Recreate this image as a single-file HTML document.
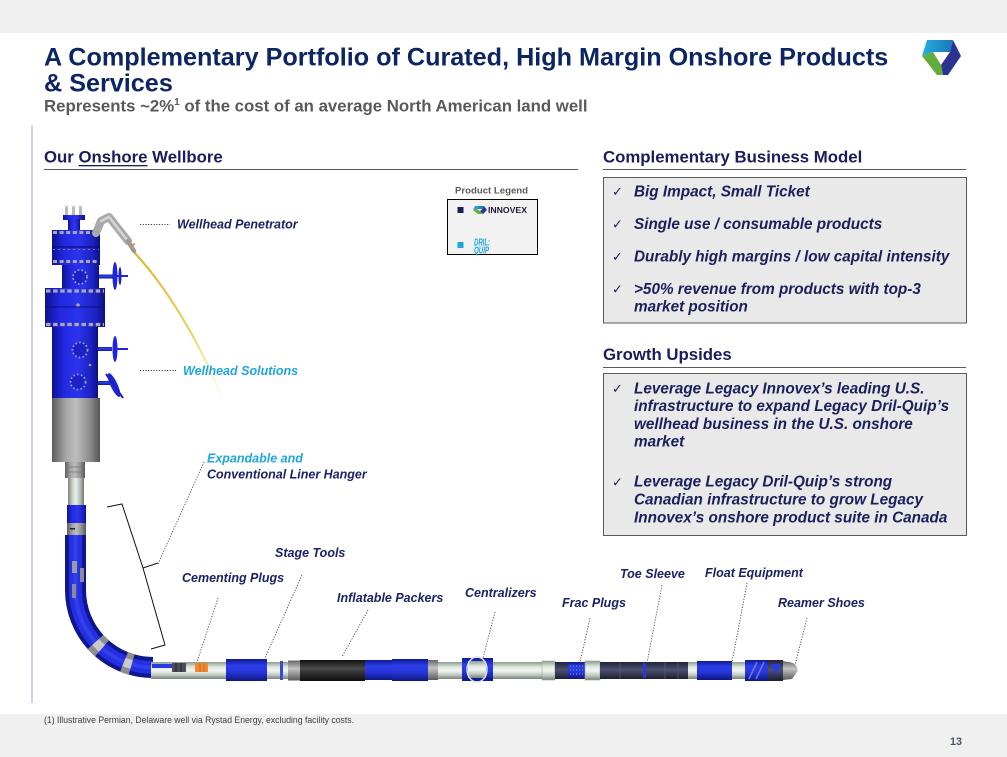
<!DOCTYPE html>
<html><head><meta charset="utf-8">
<style>
html,body{margin:0;padding:0;background:#fff;}
body{width:1007px;height:757px;overflow:hidden;position:relative;}
svg{position:absolute;left:0;top:0;}
text{font-family:"Liberation Sans",Arial,sans-serif;}
.lbl{font-size:12.5px;font-weight:bold;font-style:italic;fill:#1b2266;}
.cy{fill:#1ea5e0;}
.bx{font-size:15.3px;font-weight:bold;font-style:italic;fill:#1b1f5c;}
.ck{font-family:"DejaVu Sans",sans-serif;font-size:13px;fill:#1b1f5c;}
.hd{font-size:16.8px;font-weight:bold;fill:#1b1b5e;}
.ld{fill:none;stroke:#444;stroke-width:0.9;stroke-dasharray:1.2 1.5;}
</style></head><body>
<svg width="1007" height="757" viewBox="0 0 1007 757" xmlns="http://www.w3.org/2000/svg">
<defs>
  <linearGradient id="bh" x1="0" x2="1" y1="0" y2="0">
    <stop offset="0" stop-color="#0d1290"/><stop offset=".25" stop-color="#2228e0"/>
    <stop offset=".55" stop-color="#2c34ee"/><stop offset=".85" stop-color="#1c22c0"/>
    <stop offset="1" stop-color="#0b1080"/>
  </linearGradient>
  <linearGradient id="bv" x1="0" x2="0" y1="0" y2="1">
    <stop offset="0" stop-color="#0f1a92"/><stop offset=".3" stop-color="#2c3ee8"/>
    <stop offset=".6" stop-color="#2636d8"/><stop offset="1" stop-color="#0c1680"/>
  </linearGradient>
  <linearGradient id="gh" x1="0" x2="1" y1="0" y2="0">
    <stop offset="0" stop-color="#5d5d5d"/><stop offset=".3" stop-color="#a8a8a8"/>
    <stop offset=".5" stop-color="#bdbdbd"/><stop offset=".8" stop-color="#8a8a8a"/>
    <stop offset="1" stop-color="#555"/>
  </linearGradient>
  <linearGradient id="gv" x1="0" x2="0" y1="0" y2="1">
    <stop offset="0" stop-color="#666"/><stop offset=".4" stop-color="#c4c4c4"/>
    <stop offset="1" stop-color="#5a5a5a"/>
  </linearGradient>
  <linearGradient id="ph" x1="0" x2="1" y1="0" y2="0">
    <stop offset="0" stop-color="#7d877d"/><stop offset=".3" stop-color="#cdd5cd"/>
    <stop offset=".5" stop-color="#e8ede8"/><stop offset=".8" stop-color="#aab4aa"/>
    <stop offset="1" stop-color="#6f786f"/>
  </linearGradient>
  <linearGradient id="pv" x1="0" x2="0" y1="0" y2="1">
    <stop offset="0" stop-color="#8f9a8f"/><stop offset=".3" stop-color="#dfe8df"/>
    <stop offset=".5" stop-color="#f2f6f2"/><stop offset=".75" stop-color="#c2ccc2"/>
    <stop offset="1" stop-color="#778277"/>
  </linearGradient>
  <linearGradient id="kv" x1="0" x2="0" y1="0" y2="1">
    <stop offset="0" stop-color="#111"/><stop offset=".4" stop-color="#4a4a4a"/>
    <stop offset=".6" stop-color="#333"/><stop offset="1" stop-color="#0c0c0c"/>
  </linearGradient>
  <linearGradient id="dv" x1="0" x2="0" y1="0" y2="1">
    <stop offset="0" stop-color="#20223a"/><stop offset=".45" stop-color="#4e5270"/>
    <stop offset="1" stop-color="#1c1e32"/>
  </linearGradient>
  <linearGradient id="cable" gradientUnits="userSpaceOnUse" x1="132" y1="250" x2="228" y2="410">
    <stop offset="0" stop-color="#d9b52e"/><stop offset=".55" stop-color="#e9cf5c" stop-opacity=".9"/>
    <stop offset="1" stop-color="#f3e7b0" stop-opacity="0"/>
  </linearGradient>
  <linearGradient id="lc" x1="0" x2="1" y1="0" y2="0">
    <stop offset="0" stop-color="#27b0e0"/><stop offset="1" stop-color="#1a74b8"/>
  </linearGradient>
</defs>

<!-- bands -->
<rect x="0" y="0" width="1007" height="33" fill="#f0f0f0"/>
<rect x="0" y="714" width="1007" height="43" fill="#f0f0f0"/>
<rect x="31" y="125" width="2" height="578" fill="#c9d4df"/>

<!-- title -->
<text x="44" y="65.7" font-size="25.2" font-weight="bold" fill="#0d2663">A Complementary Portfolio of Curated, High Margin Onshore Products</text>
<text x="44" y="91.7" font-size="25.2" font-weight="bold" fill="#0d2663">&amp; Services</text>
<text x="44" y="111.7" font-size="16.8" font-weight="bold" fill="#595959">Represents ~2%<tspan font-size="10" dy="-6.5">1</tspan><tspan dy="6.5"> of the cost of an average North American land well</tspan></text>

<!-- logo -->
<polygon points="927,40 953,40 950,52 933,52 922,56" fill="url(#lc)"/>
<polygon points="953,40 961,56 948,75 943,75 941,65 950,52" fill="#2b3490"/>
<polygon points="922,56 933,52 941,65 943,75 937,75" fill="#62ac3c"/>

<!-- headings -->
<text x="44" y="162.7" class="hd">Our Onshore Wellbore</text>
<rect x="78.5" y="165" width="69" height="1.3" fill="#1b1b5e"/>
<rect x="44" y="169" width="534" height="1" fill="#595959"/>
<text x="603" y="162.7" class="hd">Complementary Business Model</text>
<rect x="603" y="169" width="363" height="1" fill="#595959"/>
<text x="603" y="360" class="hd">Growth Upsides</text>
<rect x="603" y="367" width="363" height="1" fill="#595959"/>

<!-- box 1 -->
<rect x="603.5" y="177.5" width="363" height="145.5" fill="#e9e9e9" stroke="#595959" stroke-width="1"/>
<text x="612" y="196" class="ck">✓</text><text x="634" y="196.5" class="bx">Big Impact, Small Ticket</text>
<text x="612" y="228.5" class="ck">✓</text><text x="634" y="229" class="bx">Single use / consumable products</text>
<text x="612" y="261" class="ck">✓</text><text x="634" y="261.5" class="bx">Durably high margins / low capital intensity</text>
<text x="612" y="293.5" class="ck">✓</text><text x="634" y="294" class="bx">&gt;50% revenue from products with top-3</text>
<text x="634" y="311.7" class="bx">market position</text>

<!-- box 2 -->
<rect x="603.5" y="373.5" width="363" height="162" fill="#e9e9e9" stroke="#595959" stroke-width="1"/>
<text x="612" y="393" class="ck">✓</text><text x="634" y="393.3" class="bx">Leverage Legacy Innovex’s leading U.S.</text>
<text x="634" y="411" class="bx">infrastructure to expand Legacy Dril-Quip’s</text>
<text x="634" y="429" class="bx">wellhead business in the U.S. onshore</text>
<text x="634" y="446.7" class="bx">market</text>
<text x="612" y="486.5" class="ck">✓</text><text x="634" y="486.7" class="bx">Leverage Legacy Dril-Quip’s strong</text>
<text x="634" y="504.3" class="bx">Canadian infrastructure to grow Legacy</text>
<text x="634" y="522.3" class="bx">Innovex’s onshore product suite in Canada</text>

<!-- product legend -->
<text x="455" y="193.3" font-size="9.6" font-weight="bold" fill="#595959">Product Legend</text>
<rect x="447.5" y="199.5" width="90" height="55" fill="#f2f2f2" stroke="#000" stroke-width="1"/>
<rect x="457.5" y="207" width="6" height="6" fill="#1c1c5a"/>
<polygon points="475,206 484,206 482.5,209 476.5,209 473,210" fill="url(#lc)"/>
<polygon points="484,206 487,210 483,214 480,211 482.5,209" fill="#2b3490"/>
<polygon points="473,210 476.5,209 480,211 483,214 478,214" fill="#62ac3c"/>
<text x="488" y="213" font-size="8.5" font-weight="bold" fill="#1c1c3c" textLength="39" lengthAdjust="spacingAndGlyphs">INNOVEX</text>
<rect x="457.5" y="242" width="6" height="6" fill="#1ea5e0"/>
<text x="474" y="245.5" font-size="10.5" font-weight="bold" font-style="italic" fill="#1ea5e0" textLength="16" lengthAdjust="spacingAndGlyphs">DRIL:</text>
<text x="474" y="253.5" font-size="10.5" font-weight="bold" font-style="italic" fill="#1ea5e0" textLength="15" lengthAdjust="spacingAndGlyphs">QUIP</text>

<!-- ============ WELLHEAD ============ -->
<path d="M132,250 C165,285 200,340 226,408" fill="none" stroke="url(#cable)" stroke-width="2.2"/>
<g fill="#b9b9b9">
  <rect x="65" y="206" width="3" height="10"/><rect x="72" y="206" width="3" height="10"/><rect x="79" y="206" width="3" height="10"/>
</g>
<g fill="#e2e2e2">
  <rect x="64.5" y="205" width="4" height="2"/><rect x="71.5" y="205" width="4" height="2"/><rect x="78.5" y="205" width="4" height="2"/>
</g>
<rect x="63" y="215" width="22" height="5" fill="url(#bh)"/>
<rect x="68" y="219" width="12" height="12" fill="url(#bh)"/>
<rect x="52" y="230" width="48" height="35" fill="url(#bh)"/>
<line x1="52" y1="247" x2="100" y2="247" stroke="#0a0f70" stroke-width="1.2"/>
<line x1="53" y1="232.5" x2="99" y2="232.5" stroke="#a8a8b4" stroke-width="3" stroke-dasharray="4 2.6"/>
<line x1="53" y1="261.5" x2="99" y2="261.5" stroke="#a8a8b4" stroke-width="3" stroke-dasharray="4 2.6"/>
<line x1="53" y1="249.5" x2="99" y2="249.5" stroke="#7078c0" stroke-width="1" stroke-dasharray="2 3"/>
<!-- penetrator -->
<polyline points="96,233 101,221 109,217 128,241" fill="none" stroke="#a9a9a9" stroke-width="8" stroke-linecap="round" stroke-linejoin="round"/>
<polyline points="101,221 109,217 128,241" fill="none" stroke="#d4d4d4" stroke-width="2.5" stroke-linecap="round"/>
<line x1="128" y1="241" x2="134" y2="251" stroke="#9a9a9a" stroke-width="4.5" stroke-linecap="round"/>
<line x1="130" y1="246" x2="135" y2="244" stroke="#d88a40" stroke-width="2"/>
<!-- mid body -->
<rect x="62" y="265" width="37" height="24" fill="url(#bh)"/>
<circle cx="80" cy="277" r="7" fill="#1c22c8" stroke="#a0a0b8" stroke-width="1.8" stroke-dasharray="1.6 2.2"/>
<rect x="99" y="274.5" width="14" height="4" fill="url(#bv)"/>
<ellipse cx="115" cy="276" rx="2.5" ry="14" fill="#1f26d8"/>
<ellipse cx="120" cy="276" rx="1.5" ry="9" fill="#1a20c0"/>
<line x1="115" y1="276" x2="128" y2="276" stroke="#1f26d8" stroke-width="2"/>
<!-- big flange -->
<rect x="45" y="288" width="60" height="39" fill="url(#bh)"/>
<line x1="46" y1="291" x2="104" y2="291" stroke="#a8a8b4" stroke-width="3.2" stroke-dasharray="4.5 2.6"/>
<line x1="46" y1="324.5" x2="104" y2="324.5" stroke="#a8a8b4" stroke-width="3.2" stroke-dasharray="4.5 2.6"/>
<line x1="45" y1="307" x2="105" y2="307" stroke="#0a0f70" stroke-width="1"/>
<circle cx="78" cy="305" r="1.8" fill="#a0a0b0"/>
<!-- lower body -->
<rect x="52" y="327" width="46" height="71" fill="url(#bh)"/>
<circle cx="80" cy="350" r="7.5" fill="#1c22c8" stroke="#a0a0b8" stroke-width="1.8" stroke-dasharray="1.6 2.2"/>
<circle cx="78" cy="382" r="7.5" fill="#1c22c8" stroke="#a0a0b8" stroke-width="1.8" stroke-dasharray="1.6 2.2"/>
<circle cx="90" cy="365" r="1.3" fill="#a0a0b0"/>
<rect x="98" y="347" width="14" height="4" fill="url(#bv)"/>
<ellipse cx="115" cy="349" rx="2.5" ry="13" fill="#1f26d8"/>
<line x1="115" y1="349" x2="128" y2="349" stroke="#1f26d8" stroke-width="2"/>
<rect x="98" y="381" width="12" height="4" fill="url(#bv)"/>
<ellipse cx="114" cy="385" rx="3.5" ry="13" fill="#1f26d8" transform="rotate(-25 114 385)"/>
<line x1="106" y1="374" x2="123" y2="398" stroke="#1a20c0" stroke-width="2"/>
<!-- housing & pipe -->
<rect x="52" y="398" width="48" height="64" fill="url(#gh)"/>
<rect x="65" y="462" width="20" height="16" fill="url(#gh)"/>
<line x1="65" y1="467" x2="85" y2="467" stroke="#777" stroke-width=".8"/>
<line x1="65" y1="472" x2="85" y2="472" stroke="#777" stroke-width=".8"/>
<rect x="68" y="478" width="16" height="27" fill="url(#ph)"/>
<rect x="67" y="505" width="19" height="18" fill="url(#bh)"/>
<rect x="67" y="523" width="19" height="12" fill="url(#gh)"/>
<rect x="70" y="528" width="5" height="1.5" fill="#222"/>

<!-- bend -->
<path d="M75.5,535 L75.5,590 A77.5,77.5 0 0 0 153,667.5" fill="none" stroke="#0e1690" stroke-width="21"/>
<path d="M75.5,535 L75.5,590 A77.5,77.5 0 0 0 153,667.5" fill="none" stroke="#2430e0" stroke-width="13"/>
<path d="M75.5,535 L75.5,590 A77.5,77.5 0 0 0 153,667.5" fill="none" stroke="#3c4af5" stroke-width="4" opacity=".6"/>
<path d="M75.5,535 L75.5,590 A77.5,77.5 0 0 0 153,667.5" fill="none" stroke="#8e8e8e" stroke-width="21" stroke-dasharray="0 112 9 26 8 400"/>
<path d="M75.5,535 L75.5,590 A77.5,77.5 0 0 0 153,667.5" fill="none" stroke="#cacaca" stroke-width="9" stroke-dasharray="0 112 9 26 8 400"/>
<rect x="72" y="561" width="5" height="12" fill="#9a9aa8"/>
<rect x="80" y="568" width="4" height="14" fill="#8a8a9a"/>
<rect x="72" y="584" width="4" height="14" fill="#8a8a9a"/>

<!-- horizontal string -->
<rect x="151" y="662" width="640" height="17" fill="url(#pv)"/>
<rect x="152" y="664" width="20" height="4" fill="#2a3ae0"/>
<rect x="172" y="663" width="14" height="9" fill="#4c4c5c"/>
<line x1="176" y1="663" x2="176" y2="672" stroke="#222" stroke-width="1"/>
<line x1="181" y1="663" x2="181" y2="672" stroke="#222" stroke-width="1"/>
<rect x="195" y="663" width="13" height="9" fill="#f08a30"/>
<line x1="200" y1="663" x2="200" y2="672" stroke="#c06010" stroke-width=".8"/>
<line x1="204" y1="663" x2="204" y2="672" stroke="#c06010" stroke-width=".8"/>
<rect x="226" y="659" width="41" height="22" fill="url(#bv)"/>
<rect x="280" y="661" width="3" height="19" fill="#3a4ad8"/>
<rect x="288" y="660.5" width="12" height="20" fill="url(#gv)"/>
<rect x="300" y="660" width="65" height="21" fill="url(#kv)"/>
<rect x="365" y="660" width="27" height="20" fill="url(#bv)"/>
<rect x="392" y="659" width="36" height="22" fill="url(#bv)"/>
<rect x="428" y="660" width="10" height="20" fill="url(#gv)"/>
<rect x="462" y="658" width="31" height="23" fill="url(#bv)"/>
<rect x="468" y="661" width="18" height="17" fill="url(#pv)"/>
<ellipse cx="477" cy="669.5" rx="10" ry="12.5" fill="none" stroke="#d8e0ec" stroke-width="1.5"/>
<rect x="542" y="661" width="13" height="19" fill="url(#pv)" stroke="#9aa49a" stroke-width=".6"/>
<rect x="555" y="662" width="13" height="17" fill="url(#dv)"/>
<rect x="568" y="662" width="17" height="17" fill="url(#bv)"/>
<line x1="570" y1="666" x2="584" y2="666" stroke="#9ab" stroke-width="1" stroke-dasharray="1 2"/>
<line x1="570" y1="670" x2="584" y2="670" stroke="#9ab" stroke-width="1" stroke-dasharray="1 2"/>
<line x1="570" y1="674" x2="584" y2="674" stroke="#9ab" stroke-width="1" stroke-dasharray="1 2"/>
<rect x="585" y="661" width="15" height="19" fill="url(#pv)" stroke="#9aa49a" stroke-width=".6"/>
<rect x="600" y="662" width="88" height="17" fill="url(#dv)"/>
<line x1="620" y1="662" x2="620" y2="679" stroke="#5a5e78" stroke-width=".7"/>
<line x1="665" y1="662" x2="665" y2="679" stroke="#5a5e78" stroke-width=".7"/>
<line x1="678" y1="662" x2="678" y2="679" stroke="#5a5e78" stroke-width=".7"/>
<rect x="643" y="663" width="3" height="15" fill="#2a3ae0"/>
<rect x="697" y="661" width="35" height="19" fill="url(#bv)"/>
<rect x="745" y="660" width="23" height="21" fill="url(#bv)"/>
<line x1="749" y1="679" x2="757" y2="662" stroke="#6a78f0" stroke-width="1.5"/>
<line x1="756" y1="679" x2="764" y2="662" stroke="#6a78f0" stroke-width="1.5"/>
<rect x="768" y="660" width="15" height="21" fill="url(#dv)"/>
<polygon points="771,664 781,664 776,675" fill="#2a3ae0"/>
<path d="M783,661 L793,663 Q799,667 797,672 L792,679 L783,680 Z" fill="url(#gv)"/>

<!-- bracket -->
<polyline points="107,507 122,504 143,568 158,563" fill="none" stroke="#111" stroke-width="1"/>
<polyline points="143,568 165,645 151,649" fill="none" stroke="#111" stroke-width="1"/>

<!-- leaders -->
<line class="ld" x1="140" y1="224.5" x2="170" y2="224.5"/>
<line class="ld" x1="140" y1="370.5" x2="176" y2="370.5"/>
<line class="ld" x1="204" y1="462" x2="158" y2="564"/>
<line class="ld" x1="302" y1="575" x2="265" y2="658"/>
<line class="ld" x1="218" y1="598" x2="197" y2="662"/>
<line class="ld" x1="368" y1="610" x2="342" y2="657"/>
<line class="ld" x1="495" y1="612" x2="483" y2="658"/>
<line class="ld" x1="590" y1="618" x2="580" y2="662"/>
<line class="ld" x1="662" y1="585" x2="647" y2="663"/>
<line class="ld" x1="747" y1="583" x2="732" y2="662"/>
<line class="ld" x1="807" y1="618" x2="795" y2="665"/>

<!-- labels -->
<text x="177" y="228.3" class="lbl">Wellhead Penetrator</text>
<text x="183" y="375" class="lbl cy">Wellhead Solutions</text>
<text x="207" y="462.7" class="lbl cy">Expandable and</text>
<text x="207" y="478.3" class="lbl">Conventional Liner Hanger</text>
<text x="275" y="557" class="lbl">Stage Tools</text>
<text x="182" y="582" class="lbl">Cementing Plugs</text>
<text x="337" y="602" class="lbl">Inflatable Packers</text>
<text x="465" y="597" class="lbl">Centralizers</text>
<text x="562" y="607" class="lbl">Frac Plugs</text>
<text x="620" y="578" class="lbl">Toe Sleeve</text>
<text x="705" y="577" class="lbl">Float Equipment</text>
<text x="778" y="607" class="lbl">Reamer Shoes</text>

<!-- footer -->
<text x="44" y="723" font-size="9" fill="#404040" textLength="310" lengthAdjust="spacingAndGlyphs">(1) Illustrative Permian, Delaware well via Rystad Energy, excluding facility costs.</text>
<text x="950" y="745" font-size="10.8" font-weight="bold" fill="#4a5366">13</text>
</svg>
</body></html>
